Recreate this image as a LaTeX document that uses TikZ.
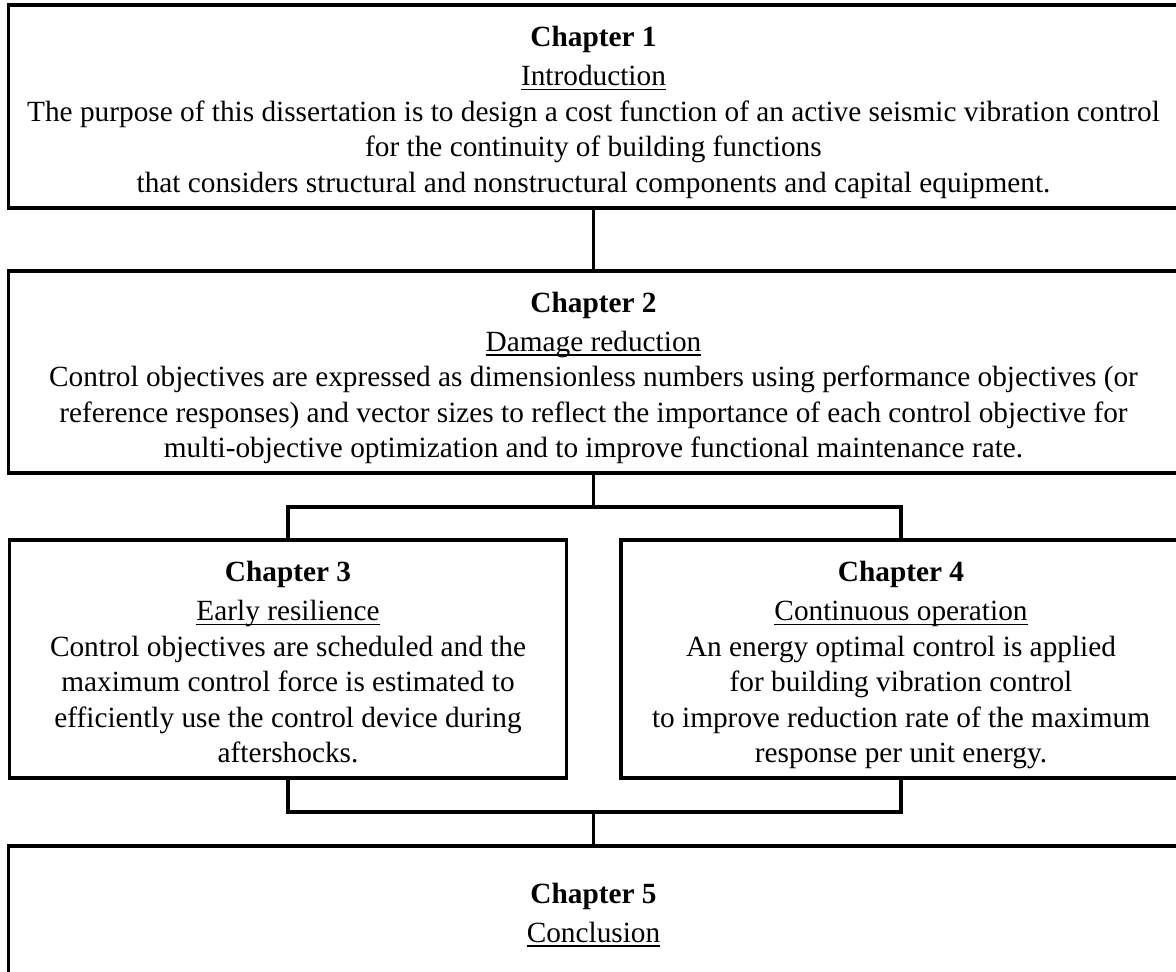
\documentclass[tikz,border=0pt]{standalone}
\usepackage{fontspec}
\setmainfont{Liberation Serif}
\newcommand{\pxu}{0.5pt}
\newsavebox{\titlebox}
\newcommand{\chhead}[1]{\rule{0pt}{17pt}\textbf{#1}}
\newcommand{\chtitle}[1]{\sbox{\titlebox}{#1}\rlap{\rule[-2.3pt]{\wd\titlebox}{0.7pt}}\usebox{\titlebox}}
\newcommand{\lastline}{\rule[-4pt]{0pt}{4pt}}
\tikzset{chapter box/.style={draw,line width=1.7pt,inner sep=0pt,align=center,font=\fontsize{14.65}{17.75}\selectfont},
connector/.style={line width=1.7pt}}

\begin{document}
\begin{tikzpicture}[x=0.5pt,y=-0.5pt]
\useasboundingbox (0,0) rectangle (1176,971);
\clip (0,0) rectangle (1176,971);

%% chapter boxes
\node [chapter box,minimum width=1170*\pxu,minimum height=203*\pxu] (ch1) at (593.5,106.5) {\chhead{Chapter 1}\\[1.75pt]
\chtitle{Introduction}\\
The purpose of this dissertation is to design a cost function of an active seismic vibration control\\
for the continuity of building functions\\
that considers structural and nonstructural components and capital equipment.\lastline};
\node [chapter box,minimum width=1170*\pxu,minimum height=202*\pxu] (ch2) at (593.5,372) {\chhead{Chapter 2}\\[1.75pt]
\chtitle{Damage reduction}\\
Control objectives are expressed as dimensionless numbers using performance objectives (or\\
reference responses) and vector sizes to reflect the importance of each control objective for\\
multi-objective optimization and to improve functional maintenance rate.\lastline};
\node [chapter box,minimum width=557*\pxu,minimum height=238*\pxu] (ch3) at (288,659) {\chhead{Chapter 3}\\[1.75pt]
\chtitle{Early resilience}\\
Control objectives are scheduled and the\\
maximum control force is estimated to\\
efficiently use the control device during\\
aftershocks.\lastline};
\node [chapter box,minimum width=560*\pxu,minimum height=238*\pxu] (ch4) at (901,659) {\chhead{Chapter 4}\\[1.75pt]
\chtitle{Continuous operation}\\
An energy optimal control is applied\\
for building vibration control\\
to improve reduction rate of the maximum\\
response per unit energy.\lastline};
\node [chapter box,minimum width=1170*\pxu,minimum height=160*\pxu] (ch5) at (593.5,926) {\chhead{Chapter 5}\\[1.75pt]
\chtitle{Conclusion}\rule[-20.5pt]{0pt}{20.5pt}};

%% branch points
\coordinate (split) at (593.5,507);
\coordinate (merge) at (593.5,812);

%% connectors
\draw [connector] (ch1.south) -- (ch2.north);
\draw [connector] (ch2.south) -- (split);
\draw [connector] (ch3.north) |- (split) -| (ch4.north);
\draw [connector] (ch3.south) |- (merge) -| (ch4.south);
\draw [connector] (merge) -- (ch5.north);

\end{tikzpicture}
\end{document}
